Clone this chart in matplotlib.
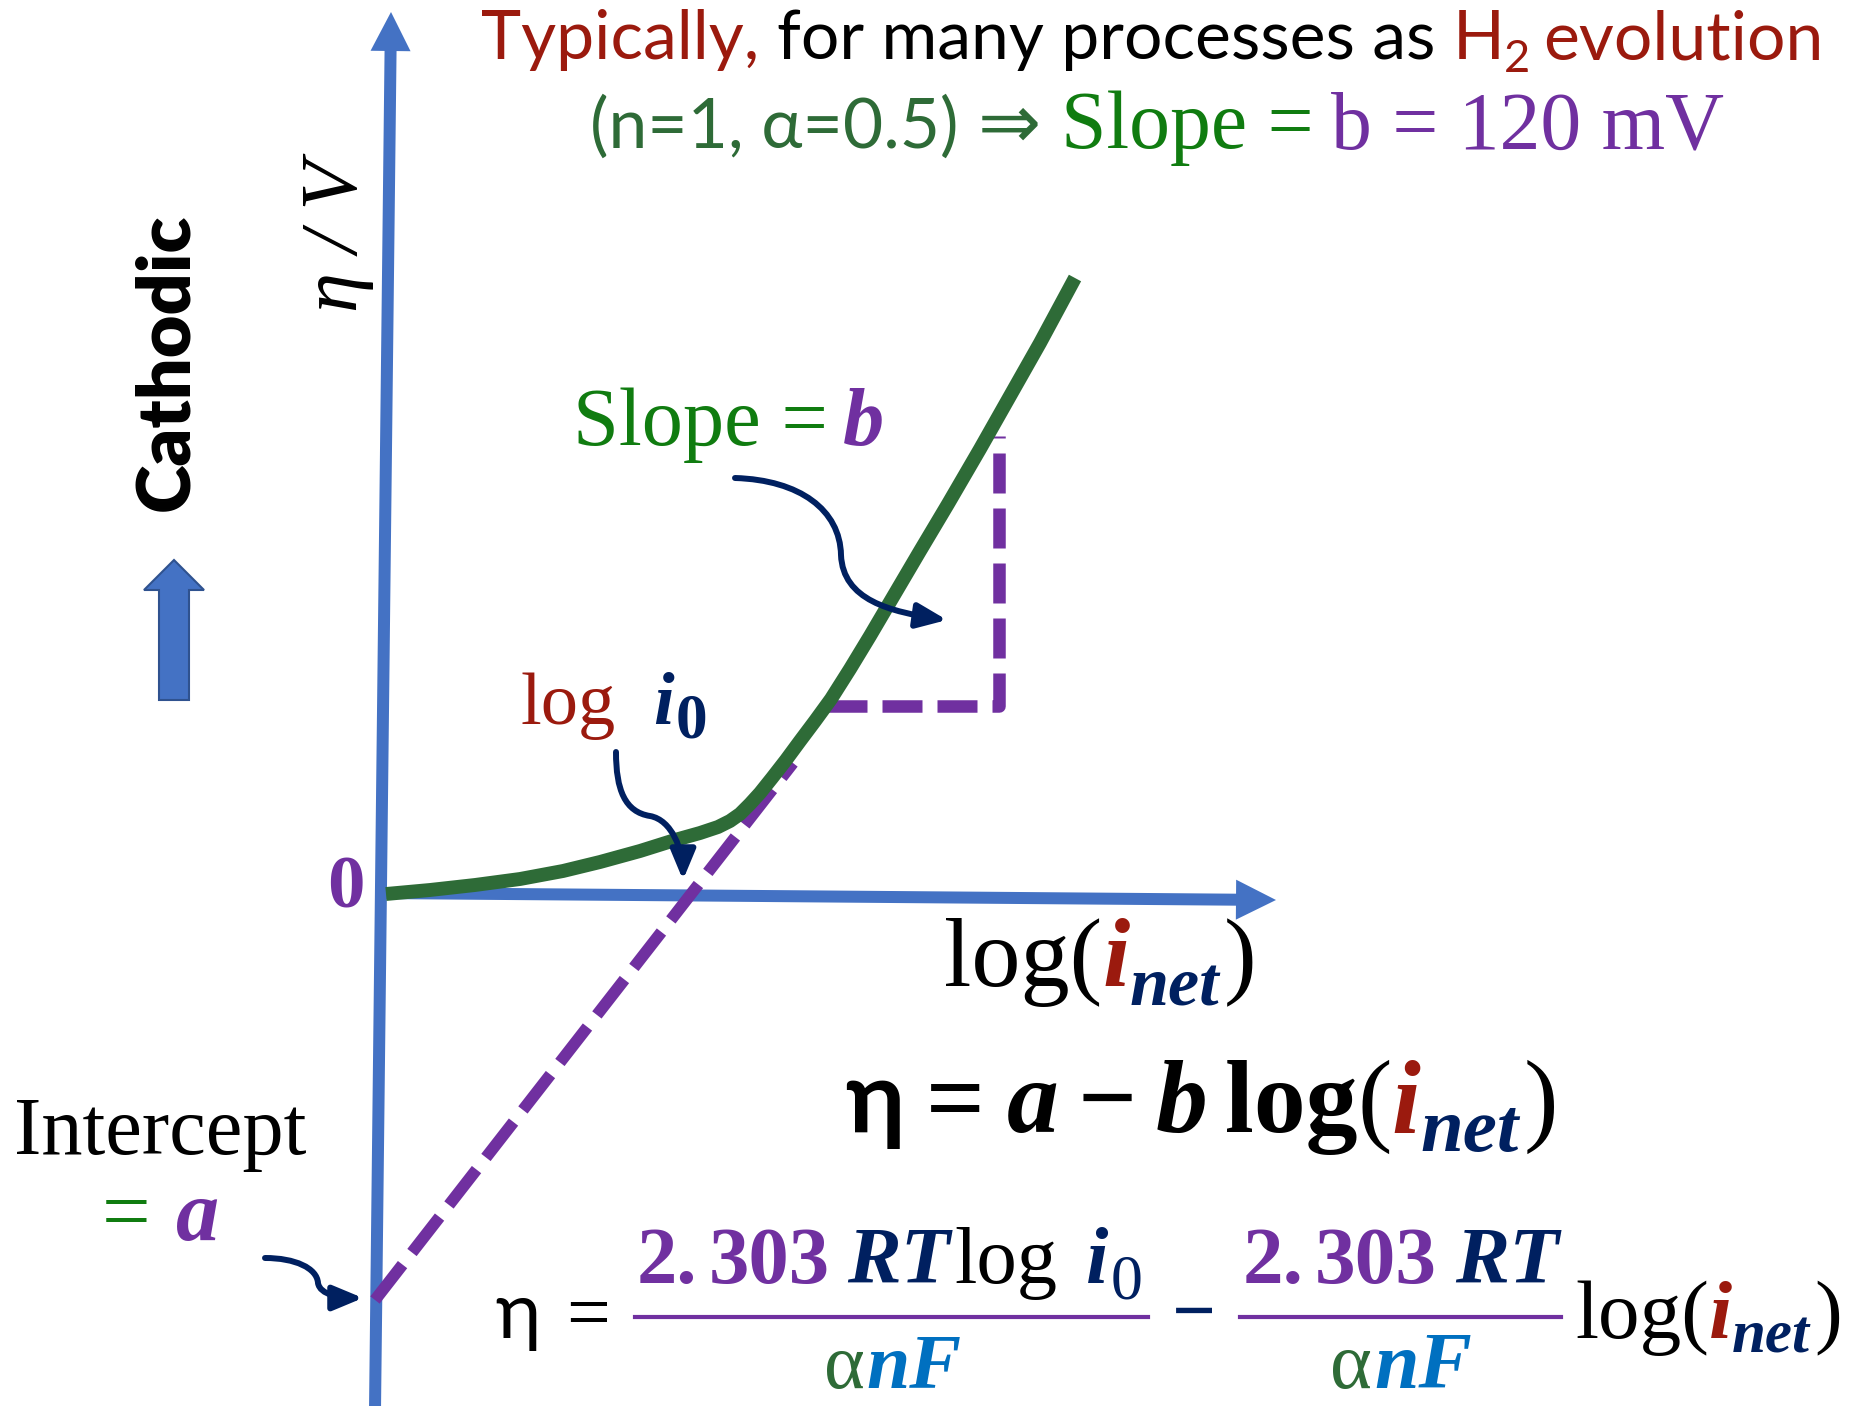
import matplotlib
matplotlib.use('Agg')
import matplotlib.pyplot as plt
from matplotlib.patches import FancyArrow, FancyArrowPatch
from matplotlib.path import Path

W, H = 1861, 1406

blue = '#4472C4'
blue_edge = '#2F528F'
dkgreen = '#2E6B37'
green = '#107C10'
purple = '#7030A0'
navy = '#002060'
red = '#9B1A0E'
fblue = '#0070C0'

SANS = ['Lato', 'Noto Sans', 'DejaVu Sans']
SERIF = ['Liberation Serif', 'DejaVu Serif']

# polarisation curve (sketch frame, y grows downward)
curve_x = [386, 430, 475, 520, 563, 600, 640, 675, 700, 718, 730, 740, 750, 760, 772, 786, 800,
           815, 831, 850, 870, 890, 920, 948, 980, 1010, 1040, 1075]
curve_y = [894, 890, 885, 879, 871, 862, 851, 840, 833, 827, 821, 814, 804, 793, 778, 760, 741,
           721, 699, 669, 636, 602, 551, 504, 449, 396, 343, 278]

# Tafel line extrapolated back to the eta axis
tafel_x = [375, 793]
tafel_y = [1300, 763]

# slope triangle
tri_x = [827, 999, 999]
tri_y = [706, 706, 436]

# curved pointer arrows: start, ctrl, ctrl, mid, ctrl, ctrl, end
slope_ptr = [(735, 478), (800, 480), (840, 510), (841, 555), (843, 600), (890, 612), (947, 620)]
i0_ptr = [(616, 752), (616, 790), (625, 812), (650, 816), (672, 820), (683, 850), (683, 880)]
icpt_ptr = [(265, 1258), (295, 1258), (317, 1268), (318, 1283), (320, 1295), (340, 1298), (363, 1298)]

fig = plt.figure(figsize=(W / 100, H / 100), dpi=100)
ax = fig.add_axes([0, 0, 1, 1])
ax.set_xlim(0, W)
ax.set_ylim(H, 0)
ax.axis('off')
renderer = fig.canvas.get_renderer()


def f(size, fam=SERIF, **kw):
    d = dict(fontsize=size, family=fam)
    d.update(kw)
    return d


def bi(size, **kw):
    return f(size, weight='bold', style='italic', **kw)


def place(x, y, parts, k):
    cx = x
    arts = []
    for p in parts:
        if not isinstance(p, tuple):
            cx += p * k
            continue
        s, c, kw = p
        kw = dict(kw)
        dy = kw.pop('dy', 0) * k
        kw['fontsize'] = kw['fontsize'] * k
        t = ax.text(cx, y + dy, s, color=c, va='baseline', ha='left', **kw)
        cx += t.get_window_extent(renderer).width
        arts.append(t)
    return arts, cx - x


def rich(x, y, parts, span=None):
    k = 1.0
    if span is not None:
        arts, w = place(x, y, parts, 1.0)
        for t in arts:
            t.remove()
        k = span / w
    place(x, y, parts, k)


# axes
ax.add_patch(FancyArrow(375, 1410, 391 - 375, 12 - 1410, width=12, head_width=40,
                        head_length=39, length_includes_head=True, color=blue, lw=0))
ax.add_patch(FancyArrow(377, 893, 1276 - 377, 900 - 893, width=12, head_width=40,
                        head_length=40, length_includes_head=True, color=blue, lw=0))

# cathodic direction arrow
ax.add_patch(FancyArrow(174, 700, 0, -140, width=30, head_width=60, head_length=30,
                        length_includes_head=True, fc=blue, ec=blue_edge, lw=1.5))

# dashed guides
ax.plot(tafel_x, tafel_y, color=purple, lw=8.5, ls=(0, (3.8, 1.3)), zorder=2)
ax.plot(tri_x, tri_y, color=purple, lw=9, ls=(0, (3.2, 1.2)), zorder=2)

# curve
ax.plot(curve_x, curve_y, color=dkgreen, lw=10, solid_joinstyle='round',
        solid_capstyle='butt', zorder=3)

# pointer arrows
codes = [Path.MOVETO] + [Path.CURVE4] * 6
for pts in (slope_ptr, i0_ptr, icpt_ptr):
    ax.add_patch(FancyArrowPatch(path=Path(pts, codes), arrowstyle='-|>,head_length=1.2,head_width=0.5',
                                 mutation_scale=15, color=navy, lw=4.3, shrinkA=0, shrinkB=0, zorder=4))

# titles
rich(481, 59, [("Typically,", red, f(45, SANS)), 16, ("for many processes as", 'black', f(45, SANS)), 16,
               ("H", red, f(45, SANS)), ("2", red, f(30, SANS, dy=12)), 12, ("evolution", red, f(45, SANS))],
     span=1345)
rich(590, 148, [("(n=1, α=0.5)", dkgreen, f(46, SANS)), 18, ("⇒", dkgreen, f(50, ['DejaVu Sans'])), 18,
                ("Slope =", green, f(54)), 16, ("b = 120 mV", purple, f(54))], span=1133)

# axis labels
ax.text(337, 236, "η / V", rotation=90, ha='center', va='center', fontsize=58,
        family=SERIF, style='italic', color='black')
ax.text(167, 362, "Cathodic", rotation=90, ha='center', va='center', fontsize=53,
        family=SANS, weight='heavy', color='black')
ax.text(346, 908, "0", ha='center', va='baseline', fontsize=54, family=SERIF,
        weight='bold', color=purple)
rich(944, 986, [("log(", 'black', f(63)), ("i", red, bi(63)), ("net", navy, bi(45, dy=17)), 4,
                (")", 'black', f(63))], span=312)

# annotations
rich(573, 445, [("Slope =", green, f(54)), 14, ("b", purple, bi(54))], span=311)
rich(520, 724, [("log", red, f(54)), 38, ("i", navy, bi(54)), 2, ("0", navy, f(46, weight='bold', dy=14))],
     span=187)
rich(14, 1154, [("Intercept", 'black', f(48))], span=292)
rich(102, 1240, [("=", green, f(50)), 20, ("a", purple, bi(50))], span=117)

# Tafel equation
rich(845, 1132, [("η", 'black', f(60, SANS, weight='bold')), 18, ("=", 'black', f(62, weight='bold')), 18,
                 ("a", 'black', bi(62)), 16, ("−", 'black', f(62, weight='bold')), 16, ("b", 'black', bi(62)), 14,
                 ("log", 'black', f(62, weight='bold')), ("(", 'black', f(62)), ("i", red, bi(62)),
                 ("net", navy, bi(46, dy=16)), 4, (")", 'black', f(62))], span=713)

# expanded form
rich(495, 1338, [("η", 'black', f(52, SANS)), 24, ("=", 'black', f(52))], span=115)
rich(637, 1283, [("2.", purple, f(53, weight='bold')), 10, ("303", purple, f(53, weight='bold')), 16,
                 ("RT", navy, bi(53)), 4, ("log", 'black', f(53)), 26,
                 ("i", navy, bi(53)), 2, ("0", navy, f(42, dy=14))], span=505)
rich(824, 1388, [("α", dkgreen, f(53)), 2, ("nF", fblue, bi(53))], span=138)
ax.plot([635, 1148], [1317, 1317], color=purple, lw=3)
rich(1172, 1336, [("−", navy, f(60, weight='bold'))], span=44)
rich(1243, 1283, [("2.", purple, f(53, weight='bold')), 10, ("303", purple, f(53, weight='bold')), 16,
                  ("RT", navy, bi(53))], span=315)
rich(1330, 1388, [("α", dkgreen, f(53)), 2, ("nF", fblue, bi(53))], span=142)
ax.plot([1240, 1561], [1317, 1317], color=purple, lw=3)
rich(1575, 1338, [("log(", 'black', f(60)), ("i", red, bi(60)), ("net", navy, bi(44, dy=15)), 4,
                  (")", 'black', f(60))], span=267)

fig.savefig('out.png', dpi=100)
